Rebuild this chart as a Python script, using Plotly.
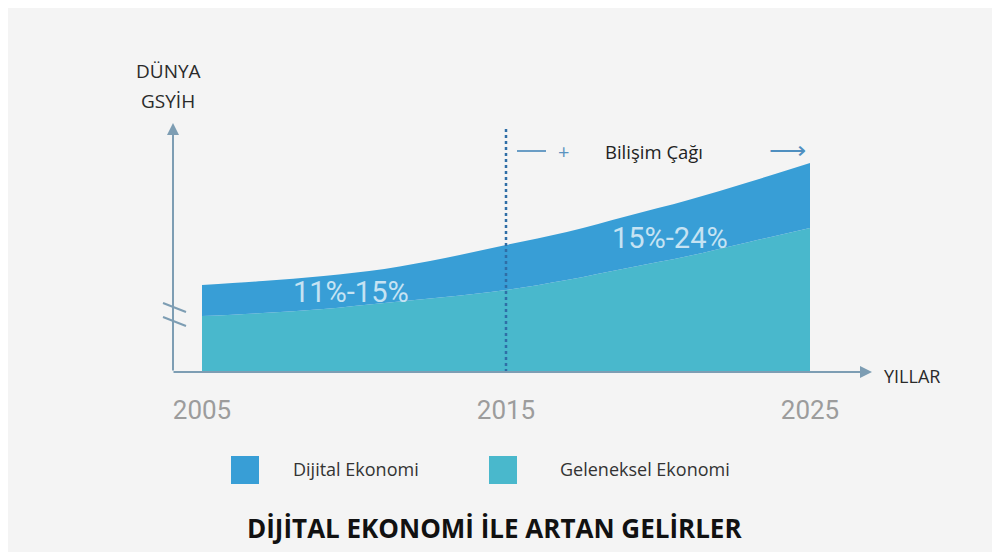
import plotly.graph_objects as go

# data (arbitrary GDP units)
years = [2005, 2007, 2009, 2011, 2013, 2015, 2017, 2019, 2021, 2023, 2025]
geleneksel = [56, 59, 63, 69, 75, 82, 92, 104, 116, 130, 144]
dijital = [31, 32, 33, 34, 39, 45, 48, 52, 56, 60, 65]
tick_years = [2005, 2015, 2025]
series_names = ["Dijital Ekonomi", "Geleneksel Ekonomi"]
band_labels = ["11%-15%", "15%-24%"]

DIJ_COLOR = "rgb(56,158,214)"
GEL_COLOR = "rgb(73,184,204)"
AXIS_COLOR = "#7d9db3"
BG = "#f4f4f4"

# the page body adds an 8px offset, margins are set so the plot sits where the reference has it
W, H = 1000, 552
ML, MR, MT, MB = 142, 108, 92, 188


# reference pixel -> data / paper helpers for decorations
def X(px):
    return 2005 + (px - 202) * 20 / 608


def Y(py):
    return 372 - py


def PX(px):
    return (px - 150) / 750


def PY(py):
    return (372 - py) / 272


fig = go.Figure()

fig.add_trace(go.Scatter(
    x=years, y=geleneksel, name=series_names[1], stackgroup="one",
    mode="lines", line=dict(width=0, shape="spline"), fillcolor=GEL_COLOR,
    showlegend=False,
))
fig.add_trace(go.Scatter(
    x=years, y=dijital, name=series_names[0], stackgroup="one",
    mode="lines", line=dict(width=0, shape="spline"), fillcolor=DIJ_COLOR,
    showlegend=False,
))

shapes = []
# dashed line at 2015
shapes.append(dict(type="line", x0=2015, x1=2015, y0=0, y1=Y(128),
                   line=dict(color="#2f6ea6", width=2.5, dash="dot")))
# axis break marks
for dy in (0, 14):
    shapes.append(dict(type="line", x0=X(163), x1=X(186), y0=Y(303 + dy), y1=Y(312 + dy),
                       line=dict(color=AXIS_COLOR, width=2)))
# "—" before the +
shapes.append(dict(type="line", x0=X(517), x1=X(546), y0=Y(151), y1=Y(151),
                   line=dict(color="#5b93c0", width=1.8)))

annotations = []
# y axis arrow
annotations.append(dict(x=X(173), y=Y(123), ax=X(173), ay=0, xref="x", yref="y",
                        axref="x", ayref="y", text="", showarrow=True, arrowhead=2,
                        arrowsize=1.2, arrowwidth=2, arrowcolor=AXIS_COLOR))
# x axis arrow
annotations.append(dict(x=X(872), y=0, ax=X(172), ay=0, xref="x", yref="y",
                        axref="x", ayref="y", text="", showarrow=True, arrowhead=2,
                        arrowsize=1.2, arrowwidth=2, arrowcolor=AXIS_COLOR))

label_font = dict(size=19, color="#2a2a2a", family="Open Sans")
annotations.append(dict(xref="paper", yref="paper", x=PX(168), y=PY(71), text="DÜNYA",
                        showarrow=False, xanchor="center", yanchor="middle", font=label_font))
annotations.append(dict(xref="paper", yref="paper", x=PX(168), y=PY(101), text="GSYİH",
                        showarrow=False, xanchor="center", yanchor="middle", font=label_font))
annotations.append(dict(xref="paper", yref="paper", x=PX(882), y=PY(376), text="YILLAR",
                        showarrow=False, xanchor="left", yanchor="middle",
                        font=dict(size=18, color="#2a2a2a", family="Open Sans")))
# Bilişim Çağı
annotations.append(dict(x=X(563), y=Y(151), text="+", showarrow=False,
                        xref="x", yref="y", font=dict(size=20, color="#5b93c0")))
annotations.append(dict(x=X(654), y=Y(151), text="Bilişim Çağı", showarrow=False,
                        xref="x", yref="y", font=dict(size=18.5, color="#222222",
                                                      family="Open Sans")))
annotations.append(dict(x=X(787), y=Y(149), text="⟶", showarrow=False,
                        xref="x", yref="y", font=dict(size=26, color="#4f8fc0")))
# band labels
annotations.append(dict(x=X(351), y=Y(292), text=band_labels[0], showarrow=False,
                        xref="x", yref="y", font=dict(size=29, color="#c6e3f3",
                                                      family="Roboto")))
annotations.append(dict(x=X(670), y=Y(238), text=band_labels[1], showarrow=False,
                        xref="x", yref="y", font=dict(size=29, color="#c6e3f3",
                                                      family="Roboto")))

# manual legend
for cx, col, tx, name in [(245, DIJ_COLOR, 356, series_names[0]),
                          (503, GEL_COLOR, 645, series_names[1])]:
    shapes.append(dict(type="rect", xref="paper", yref="paper",
                       x0=PX(cx - 14), x1=PX(cx + 14), y0=PY(484), y1=PY(456),
                       fillcolor=col, line=dict(width=0)))
    annotations.append(dict(xref="paper", yref="paper", x=PX(tx), y=PY(469),
                            text=name, showarrow=False, xanchor="center", yanchor="middle",
                            font=dict(size=18, color="#333333", family="Open Sans")))

# title
annotations.append(dict(xref="paper", yref="paper", x=PX(494), y=PY(528),
                        text="<b>DİJİTAL EKONOMİ İLE ARTAN GELİRLER</b>", showarrow=False,
                        xanchor="center", yanchor="middle",
                        font=dict(size=26, color="#111111", family="Open Sans")))

fig.update_layout(
    width=W, height=H,
    margin=dict(l=ML, r=MR, t=MT, b=MB),
    paper_bgcolor=BG, plot_bgcolor=BG,
    shapes=shapes, annotations=annotations,
)
fig.update_xaxes(range=[X(150), X(900)], tickvals=tick_years,
                 ticktext=[str(t) for t in tick_years], ticks="", ticklabelstandoff=20,
                 tickfont=dict(size=26, color="#9c9c9c", family="Roboto"),
                 showgrid=False, zeroline=False, showline=False)
fig.update_yaxes(range=[0, 272], showticklabels=False, showgrid=False,
                 zeroline=False, showline=False)

fig.write_html("out.html")
